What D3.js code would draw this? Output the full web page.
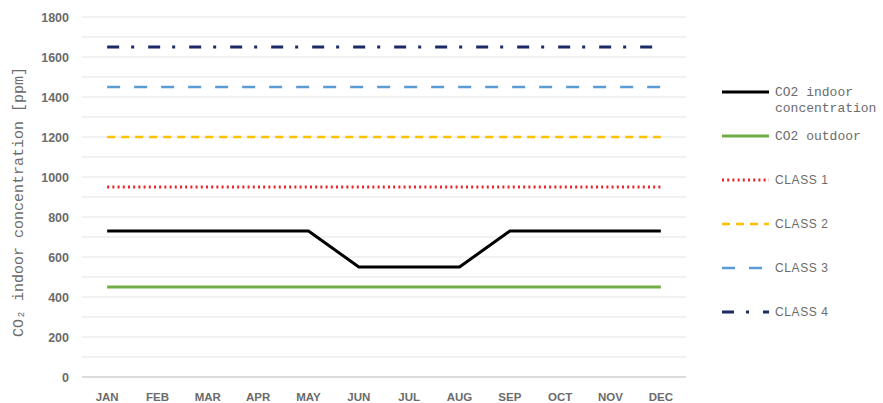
<!DOCTYPE html>
<html>
<head>
<meta charset="utf-8">
<script src="https://cdn.jsdelivr.net/npm/d3@7"></script>
<style>
  body { margin: 0; background: #fff; }
</style>
</head>
<body>
<svg id="chart"></svg>
<script>
const months = ["JAN","FEB","MAR","APR","MAY","JUN","JUL","AUG","SEP","OCT","NOV","DEC"];
const indoor = [730,730,730,730,730,550,550,550,730,730,730,730];
const outdoor = [450,450,450,450,450,450,450,450,450,450,450,450];
const class1 = [950,950,950,950,950,950,950,950,950,950,950,950];
const class2 = [1200,1200,1200,1200,1200,1200,1200,1200,1200,1200,1200,1200];
const class3 = [1450,1450,1450,1450,1450,1450,1450,1450,1450,1450,1450,1450];
const class4 = [1650,1650,1650,1650,1650,1650,1650,1650,1650,1650,1650,1650];
const yTicks = [0,200,400,600,800,1000,1200,1400,1600,1800];

const width = 883;
const height = 403;
const marginTop = 17;
const marginBottom = 26;
const marginLeft = 82;
const plotRight = 686;

const series = [
  {name: ["CO2 indoor", "concentration"], values: indoor, color: "#000000", w: 3, dash: null, mono: true},
  {name: ["CO2 outdoor"], values: outdoor, color: "#70ad47", w: 3, dash: null, mono: true},
  {name: ["CLASS 1"], values: class1, color: "#e8262a", w: 3, dash: "2,3.2", mono: false},
  {name: ["CLASS 2"], values: class2, color: "#ffc000", w: 2.5, dash: "8,6", mono: false},
  {name: ["CLASS 3"], values: class3, color: "#5b9bd5", w: 2.5, dash: "13,14", mono: false},
  {name: ["CLASS 4"], values: class4, color: "#1c2a66", w: 3, dash: "12,12,3,14", mono: false}
];

const x = d3.scaleBand()
    .domain(months)
    .range([marginLeft, plotRight]);

const y = d3.scaleLinear()
    .domain([0, 1800])
    .range([height - marginBottom, marginTop]);

const svg = d3.select("#chart")
    .attr("width", width)
    .attr("height", height)
    .attr("viewBox", [0, 0, width, height]);

// grid lines every 100
svg.append("g")
  .selectAll("line")
  .data(d3.range(0, 1801, 100))
  .join("line")
    .attr("x1", marginLeft)
    .attr("x2", plotRight)
    .attr("y1", d => y(d))
    .attr("y2", d => y(d))
    .attr("stroke", d => d === 0 ? "#d0d0d0" : "#e4e4e4")
    .attr("stroke-width", d => d === 0 ? 1.5 : 1);

// y axis labels
svg.append("g")
    .attr("transform", `translate(${marginLeft - 13},0)`)
    .call(d3.axisLeft(y).tickValues(yTicks).tickFormat(d3.format("d")).tickSize(0).tickPadding(0))
    .call(g => g.select(".domain").remove())
    .call(g => g.selectAll("text")
        .attr("font-family", "Liberation Sans, Arial, sans-serif")
        .attr("font-size", 12.5)
        .attr("font-weight", "bold")
        .attr("fill", "#6b6b6b"));

// x axis labels
svg.append("g")
    .attr("transform", `translate(0,${height - 10})`)
    .call(d3.axisBottom(x).tickSize(0).tickPadding(0))
    .call(g => g.select(".domain").remove())
    .call(g => g.selectAll("text")
        .attr("font-family", "Liberation Sans, Arial, sans-serif")
        .attr("font-size", 11.5)
        .attr("font-weight", "bold")
        .attr("fill", "#6b6b6b"));

// y axis title
svg.append("text")
    .attr("transform", `translate(23,${(marginTop + height - marginBottom) / 2 + 5}) rotate(-90)`)
    .attr("text-anchor", "middle")
    .attr("font-family", "Liberation Mono, DejaVu Sans Mono, monospace")
    .attr("font-size", 15)
    .attr("fill", "#6b6b6b")
    .text("CO₂ indoor concentration [ppm]");

const line = d3.line()
    .x((d, i) => x(months[i]) + x.bandwidth() / 2)
    .y(d => y(d));

svg.append("g")
  .selectAll("path")
  .data(series.slice().reverse())
  .join("path")
    .attr("fill", "none")
    .attr("stroke", d => d.color)
    .attr("stroke-width", d => d.w)
    .attr("stroke-dasharray", d => d.dash)
    .attr("d", d => line(d.values));

// legend
const legend = svg.append("g");
series.forEach((s, i) => {
  const ly = 92 + i * 44;
  legend.append("line")
      .attr("x1", 722).attr("x2", 769)
      .attr("y1", ly).attr("y2", ly)
      .attr("stroke", s.color)
      .attr("stroke-width", s.w)
      .attr("stroke-dasharray", s.dash);
  s.name.forEach((t, j) => {
    legend.append("text")
        .attr("x", 775)
        .attr("y", ly + 4 + j * 16)
        .attr("font-family", s.mono ? "Liberation Mono, DejaVu Sans Mono, monospace" : "Liberation Sans, Arial, sans-serif")
        .attr("font-size", s.mono ? 13 : 12)
        .attr("letter-spacing", s.mono ? 0 : 0.6)
        .attr("fill", "#6b6b6b")
        .text(t);
  });
});
</script>
</body>
</html>
